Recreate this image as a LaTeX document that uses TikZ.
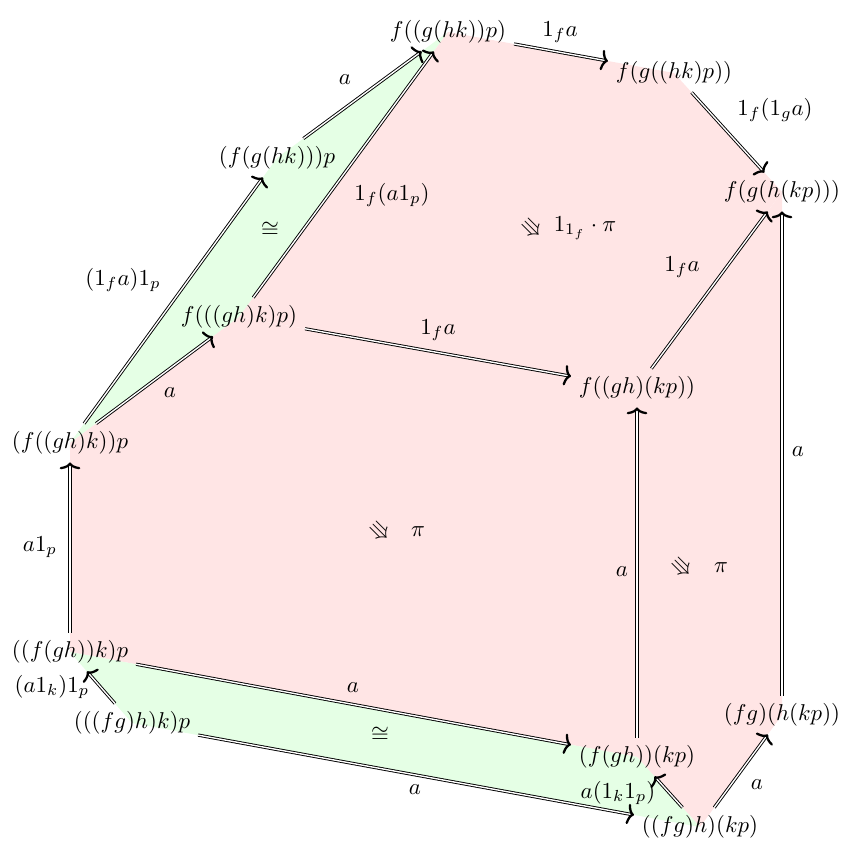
\documentclass[tikz,border=0pt]{standalone}
\usepackage{amsmath}
\usepackage{amssymb}
\usetikzlibrary{arrows.meta,backgrounds}
\definecolor{face}{HTML}{FFE5E5}
\definecolor{iso}{HTML}{E5FFE5}
\tikzset{
  obj/.style  = {inner sep=3.3pt},
  cell/.style = {-{To[length=3pt, width=9pt, line width=1pt]}, double,
                 double distance=0.6pt, line width=0.4pt},
  lab/.style  = {inner sep=1pt},
  mod/.style  = {inner sep=0pt, rotate=-45},
  facefill/.style = {fill=face},
  isofill/.style  = {fill=iso},
}
\newcommand{\pobj}[3]{\node[obj] (#1) at (#2) {$#3$};}
\newcommand{\plab}[3]{\node[lab] (#1) at (#2) {$#3$};}

\begin{document}
\begin{tikzpicture}[x=0.01537cm,y=-0.01537cm]
\useasboundingbox (0,0) rectangle (851,846);

% ------------------------------------------------------------------ objects
\pobj{A}{448,32}  {f((g(hk))p)}
\pobj{B}{674,73}  {f(g((hk)p))}
\pobj{C}{782,192} {f(g(h(kp)))}
\pobj{D}{277,158} {(f(g(hk)))p}
\pobj{E}{239,317} {f(((gh)k)p)}
\pobj{F}{637,388} {f((gh)(kp))}
\pobj{G}{70,443}  {(f((gh)k))p}
\pobj{H}{70,652}  {((f(gh))k)p}
\pobj{I}{132,723} {(((fg)h)k)p}
\pobj{J}{637,757} {(f(gh))(kp)}
\pobj{K}{700,827} {((fg)h)(kp)}
\pobj{L}{782,715} {(fg)(h(kp))}

% ------------------------------------------------------------------ faces
\begin{scope}[on background layer]
  \fill[isofill]  (G.center) -- (D.center) -- (A.center) -- (E.center) -- cycle;
  \fill[facefill] (E.center) -- (A.center) -- (B.center) -- (C.center) -- (F.center) -- cycle;
  \fill[facefill] (G.center) -- (E.center) -- (F.center) -- (J.center) -- (H.center) -- cycle;
  \fill[facefill] (F.center) -- (C.center) -- (L.center) -- (K.center) -- (J.center) -- cycle;
  \fill[isofill]  (H.center) -- (I.center) -- (K.center) -- (J.center) -- cycle;
\end{scope}

% ------------------------------------------------------------------ 1-cells
\foreach \a/\b in {G/D, D/A, G/E, E/A, A/B, B/C, E/F, F/C, H/G, J/F, L/C, H/J, I/H, I/K, K/J, K/L}{\draw[cell] (\a) -- (\b);}

\plab{lGD}{123,280} {(1_fa)1_p}
\plab{lDA}{345,80}  {a}
\plab{lGE}{170,393} {a}
\plab{lEA}{392,195} {1_f(a1_p)}
\plab{lAB}{560,32}  {1_fa}
\plab{lBC}{775,110} {1_f(1_ga)}
\plab{lEF}{438,330} {1_fa}
\plab{lFC}{682,267} {1_fa}
\plab{lHG}{40,547}  {a1_p}
\plab{lJF}{622,572} {a}
\plab{lLC}{798,452} {a}
\plab{lHJ}{353,688} {a}
\plab{lIH}{52,687}  {(a1_k)1_p}
\plab{lIK}{415,790} {a}
\plab{lKJ}{618,793} {a(1_k1_p)}
\plab{lKL}{757,785} {a}

% ------------------------------------------------------------------ 2-cells
\node[mod] (m1) at (532,229) {$\Rrightarrow$};
\plab{p1}{585,228} {1_{1_f}\cdot\pi}
\node[mod] (m2) at (380,532) {$\Rrightarrow$};
\plab{p2}{418,532} {\pi}
\node[mod] (m3) at (682,568) {$\Rrightarrow$};
\plab{p3}{721,568} {\pi}
\plab{i1}{270,230} {\cong}
\plab{i2}{380,735} {\cong}

\end{tikzpicture}
\end{document}
